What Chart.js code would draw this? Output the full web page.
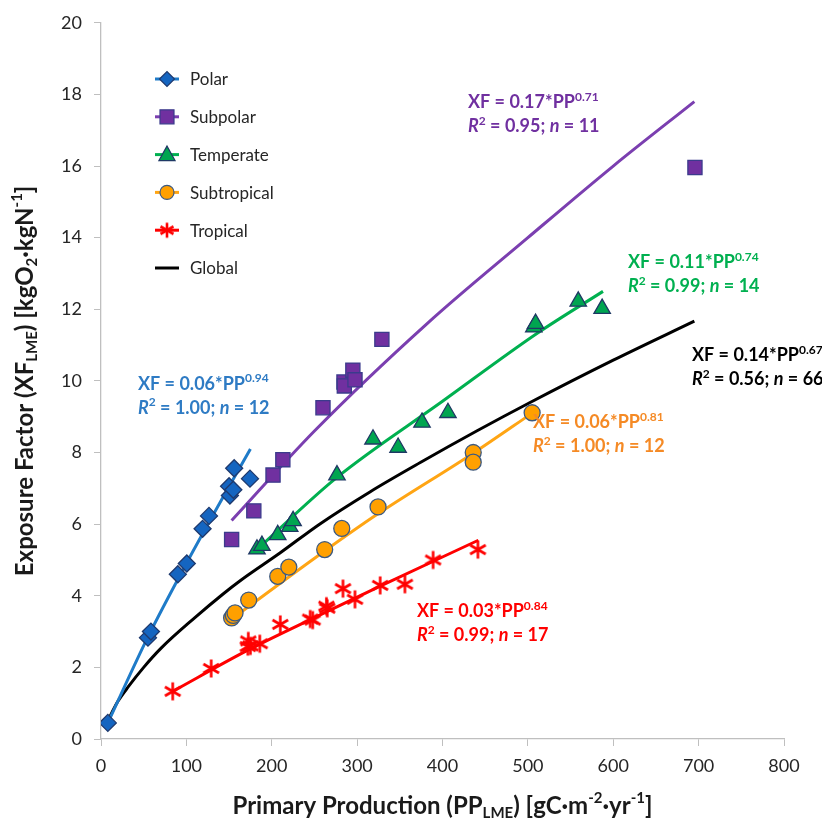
<!DOCTYPE html>
<html>
<head>
<meta charset="utf-8">
<script src="https://cdn.jsdelivr.net/npm/chart.js@4/dist/chart.umd.min.js"></script>
<style>
  body { margin: 0; background: #fff; }
  canvas { display: block; }
</style>
</head>
<body>
<canvas id="xfChart" width="822" height="825"></canvas>
<script>
// Valeurs (PP en gC/m2/an, XF en kgO2/kgN)
const polarX = [8, 55, 58.5, 90, 100.5, 119, 126.5, 150, 151, 155, 156, 174.5];
const polarY = [0.45, 2.83, 3.0, 4.6, 4.9, 5.87, 6.23, 7.06, 6.8, 6.96, 7.56, 7.27];
const polarFitX = [8, 55, 100, 150, 175];
const polarFitY = [0.45, 2.85, 4.9, 7.05, 8.1];

const subpolarX = [153, 179, 201.5, 213, 260, 284.6, 285, 295, 297.5, 329, 695.7];
const subpolarY = [5.57, 6.37, 7.37, 7.8, 9.25, 9.97, 9.86, 10.3, 10.03, 11.16, 15.96];
const subpolarFitX = [153, 250, 382, 500, 600, 695];
const subpolarFitY = [6.1, 8.6, 11.6, 14.0, 16.0, 17.8];

const temperateX = [182.7, 188.5, 207, 221, 225, 276.4, 318.6, 348, 376, 406.4, 507, 509, 559, 587];
const temperateY = [5.3, 5.4, 5.7, 5.93, 6.09, 7.37, 8.37, 8.14, 8.84, 9.11, 11.5, 11.6, 12.22, 12.02];
const temperateFitX = [183, 276, 400, 511, 588];
const temperateFitY = [5.3, 7.3, 9.43, 11.33, 12.5];

const subtropicalX = [153, 155, 157, 173, 207, 220, 262, 282, 324.5, 436, 436, 505];
const subtropicalY = [3.38, 3.45, 3.52, 3.88, 4.54, 4.8, 5.29, 5.88, 6.48, 8.0, 7.73, 9.11];
const subtropicalFitX = [153, 262, 324, 436, 505];
const subtropicalFitY = [3.35, 5.25, 6.28, 7.98, 9.1];

const tropicalX = [84, 129, 172, 172.5, 175, 186, 210, 245, 248, 264, 265, 283.4, 297.5, 327, 356, 389, 441.5];
const tropicalY = [1.33, 1.97, 2.58, 2.74, 2.6, 2.66, 3.2, 3.35, 3.32, 3.71, 3.65, 4.2, 3.9, 4.29, 4.32, 5.0, 5.29];
const tropicalFitX = [84, 172, 250, 327, 442];
const tropicalFitY = [1.33, 2.48, 3.39, 4.27, 5.55];

const globalFitX = [8, 14, 20, 32, 50, 71, 110, 143, 163, 210, 256, 315, 374, 440, 502, 600, 695];
const globalFitY = [0.5, 0.8, 1.06, 1.46, 2.0, 2.55, 3.39, 4.05, 4.42, 5.2, 6.0, 6.9, 7.72, 8.6, 9.39, 10.58, 11.67];

const legendLabels = ['Polar', 'Subpolar', 'Temperate', 'Subtropical', 'Tropical', 'Global'];
const xTicks = [0, 100, 200, 300, 400, 500, 600, 700, 800];
const yTicks = [0, 2, 4, 6, 8, 10, 12, 14, 16, 18, 20];

const FONT = 'Lato, "Open Sans", sans-serif';

// Fonction pour assembler des paires x/y
function pts(xs, ys) {
    return xs.map((x, i) => ({ x: x, y: ys[i] }));
}

// Marqueur étoile (style Excel)
function makeStar(size, color, lw) {
    const c = document.createElement('canvas');
    c.width = size; c.height = size;
    const g = c.getContext('2d');
    g.strokeStyle = color;
    g.lineWidth = lw;
    const m = size / 2, r = size / 2 - 1.5;
    [90, 30, 150].forEach(a => {
        const rad = a * Math.PI / 180;
        g.beginPath();
        g.moveTo(m - r * Math.cos(rad), m - r * Math.sin(rad));
        g.lineTo(m + r * Math.cos(rad), m + r * Math.sin(rad));
        g.stroke();
    });
    return c;
}
const starBig = makeStar(21, '#FF0000', 2.6);
const starSmall = makeStar(18, '#FF0000', 2.6);

const series = [
    { label: 'Polar', x: polarX, y: polarY, fx: polarFitX, fy: polarFitY, line: '#1F7BC8',
      style: 'rectRot', r: 8.5, fill: '#1565C0', border: '#1F3A6E' },
    { label: 'Subpolar', x: subpolarX, y: subpolarY, fx: subpolarFitX, fy: subpolarFitY, line: '#7B3FB0',
      style: 'rect', r: 10, fill: '#7030A0', border: '#3B3B8C' },
    { label: 'Temperate', x: temperateX, y: temperateY, fx: temperateFitX, fy: temperateFitY, line: '#00B050',
      style: 'triangle', r: 9.5, fill: '#00A550', border: '#1F3864' },
    { label: 'Subtropical', x: subtropicalX, y: subtropicalY, fx: subtropicalFitX, fy: subtropicalFitY, line: '#FFA514',
      style: 'circle', r: 8, fill: '#FFA000', border: '#3D5A80' },
    { label: 'Tropical', x: tropicalX, y: tropicalY, fx: tropicalFitX, fy: tropicalFitY, line: '#FF0000',
      style: starBig, r: 10, fill: '#FF0000', border: '#FF0000' }
];

const datasets = [];
series.forEach(s => {
    datasets.push({
        label: s.label + ' fit', data: pts(s.fx, s.fy), showLine: true, borderColor: s.line,
        borderWidth: 3, pointRadius: 0, cubicInterpolationMode: 'monotone', order: 2
    });
});
datasets.push({
    label: 'Global', data: pts(globalFitX, globalFitY), showLine: true, borderColor: '#000',
    borderWidth: 3, pointRadius: 0, cubicInterpolationMode: 'monotone', order: 3
});
series.forEach(s => {
    datasets.push({
        label: s.label, data: pts(s.x, s.y), showLine: false, pointStyle: s.style, pointRadius: s.r,
        backgroundColor: s.fill, borderColor: s.border, borderWidth: 1.3, order: 1
    });
});

// Textes des équations (position en coordonnées des données)
const equations = [
    { color: '#2E7BC4', x: 43.3, y: 9.92, a: '0.06', b: '0.94', r2: '1.00', n: '12' },
    { color: '#7030A0', x: 429.8, y: 17.78, a: '0.17', b: '0.71', r2: '0.95', n: '11' },
    { color: '#00B050', x: 617.2, y: 13.32, a: '0.11', b: '0.74', r2: '0.99', n: '14' },
    { color: '#000000', x: 692.2, y: 10.72, a: '0.14', b: '0.67', r2: '0.56', n: '66' },
    { color: '#F58A25', x: 506, y: 8.84, a: '0.06', b: '0.81', r2: '1.00', n: '12' },
    { color: '#FF0000', x: 370, y: 3.57, a: '0.03', b: '0.84', r2: '0.99', n: '17' }
];

function fontOf(run, size) {
    return (run.i ? 'italic ' : '') + (run.n ? '' : 'bold ') + Math.round(size * (run.s || 1)) + 'px ' + FONT;
}

// Texte avec indices et exposants
function drawRuns(ctx, x, y, runs, size, color, align) {
    let total = 0;
    runs.forEach(r => { ctx.font = fontOf(r, size); r.w = ctx.measureText(r.t).width; total += r.w; });
    let cx = align === 'center' ? x - total / 2 : x;
    ctx.fillStyle = color;
    ctx.textAlign = 'left';
    ctx.textBaseline = 'middle';
    runs.forEach(r => {
        ctx.font = fontOf(r, size);
        ctx.fillText(r.t, cx, y + (r.dy || 0) * size);
        cx += r.w;
    });
}

function drawMarker(ctx, style, x, y, r, fill, border) {
    ctx.save();
    ctx.fillStyle = fill;
    ctx.strokeStyle = border;
    ctx.lineWidth = 1.2;
    ctx.beginPath();
    if (style === 'rectRot') {
        ctx.moveTo(x - r, y); ctx.lineTo(x, y - r); ctx.lineTo(x + r, y); ctx.lineTo(x, y + r); ctx.closePath();
    } else if (style === 'rect') {
        ctx.rect(x - r, y - r, 2 * r, 2 * r);
    } else if (style === 'triangle') {
        ctx.moveTo(x, y - r); ctx.lineTo(x + r * 0.95, y + r * 0.7); ctx.lineTo(x - r * 0.95, y + r * 0.7); ctx.closePath();
    } else if (style === 'circle') {
        ctx.arc(x, y, r, 0, Math.PI * 2);
    } else {
        ctx.drawImage(style, x - style.width / 2, y - style.height / 2);
        ctx.restore();
        return;
    }
    ctx.fill();
    ctx.stroke();
    ctx.restore();
}

const overlay = {
    id: 'overlay',
    afterDraw(chart) {
        const ctx = chart.ctx;
        const xs = chart.scales.x, ys = chart.scales.y;
        ctx.save();

        // Légende
        const legendMarkers = [
            ['rectRot', 7.5, '#1565C0', '#1F3A6E', '#1F7BC8'],
            ['rect', 7, '#7030A0', '#3B3B8C', '#7B3FB0'],
            ['triangle', 8.5, '#00A550', '#1F3864', '#00B050'],
            ['circle', 7, '#FFA000', '#3D5A80', '#FFA514'],
            [starSmall, 7, '#FF0000', '#FF0000', '#FF0000'],
            [null, 0, '', '', '#000000']
        ];
        legendLabels.forEach((lab, i) => {
            const yy = 79 + i * 37.8;
            const m = legendMarkers[i];
            ctx.strokeStyle = m[4];
            ctx.lineWidth = 3;
            ctx.beginPath(); ctx.moveTo(155, yy); ctx.lineTo(179, yy); ctx.stroke();
            if (m[0]) drawMarker(ctx, m[0], 167, yy, m[1], m[2], m[3]);
            ctx.font = '17px ' + FONT;
            ctx.fillStyle = '#262626';
            ctx.textAlign = 'left';
            ctx.textBaseline = 'middle';
            ctx.fillText(lab, 190, yy + 1);
        });

        // Équations
        equations.forEach(e => {
            const px = xs.getPixelForValue(e.x), py = ys.getPixelForValue(e.y);
            drawRuns(ctx, px, py, [
                { t: 'XF = ' + e.a + '*PP' }, { t: e.b, s: 0.7, dy: -0.3 }
            ], 17.5, e.color, 'left');
            drawRuns(ctx, px, py + 24, [
                { t: 'R', i: 1 }, { t: '2', s: 0.7, dy: -0.3 }, { t: ' = ' + e.r2 + '; ' },
                { t: 'n', i: 1 }, { t: ' = ' + e.n }
            ], 17.5, e.color, 'left');
        });

        // Titre axe x
        drawRuns(ctx, (chart.chartArea.left + chart.chartArea.right) / 2, 806, [
            { t: 'Primary Production (PP' }, { t: 'LME', s: 0.62, dy: 0.3 }, { t: ') [gC·m' },
            { t: '-2', s: 0.62, dy: -0.32 }, { t: '·yr' }, { t: '-1', s: 0.62, dy: -0.32 }, { t: ']' }
        ], 23.5, '#1a1a1a', 'center');

        // Titre axe y
        ctx.translate(25, (chart.chartArea.top + chart.chartArea.bottom) / 2);
        ctx.rotate(-Math.PI / 2);
        drawRuns(ctx, 0, 0, [
            { t: 'Exposure Factor (XF' }, { t: 'LME', s: 0.62, dy: 0.3 }, { t: ') [kgO' },
            { t: '2', s: 0.62, dy: 0.3 }, { t: '·kgN' }, { t: '-1', s: 0.62, dy: -0.32 }, { t: ']' }
        ], 23.5, '#1a1a1a', 'center');
        ctx.restore();
    }
};

function createChart() {
    const ctx = document.getElementById('xfChart').getContext('2d');
    new Chart(ctx, {
        type: 'scatter',
        data: { datasets: datasets },
        plugins: [overlay],
        options: {
            responsive: false,
            animation: false,
            layout: { padding: { top: 17, right: 38, left: 0, bottom: 0 } },
            plugins: { legend: { display: false }, tooltip: { enabled: false } },
            scales: {
                x: {
                    type: 'linear', min: 0, max: 800,
                    afterBuildTicks: s => { s.ticks = xTicks.map(v => ({ value: v })); },
                    afterFit: s => { s.height = 86; },
                    grid: { drawOnChartArea: false, drawTicks: true, tickLength: 7, color: '#bfbfbf' },
                    border: { display: true, color: '#bfbfbf', width: 1.3 },
                    ticks: { font: { family: FONT, size: 18 }, color: '#262626', padding: 9, maxRotation: 0 }
                },
                y: {
                    type: 'linear', min: 0, max: 20,
                    afterBuildTicks: s => { s.ticks = yTicks.map(v => ({ value: v })); },
                    afterFit: s => { s.width = 101; },
                    grid: { drawOnChartArea: false, drawTicks: true, tickLength: 7, color: '#bfbfbf' },
                    border: { display: true, color: '#bfbfbf', width: 1.3 },
                    ticks: { font: { family: FONT, size: 18 }, color: '#262626', padding: 12 }
                }
            }
        }
    });
}

document.fonts.load('bold 16px Lato').then(createChart, createChart);
</script>
</body>
</html>
